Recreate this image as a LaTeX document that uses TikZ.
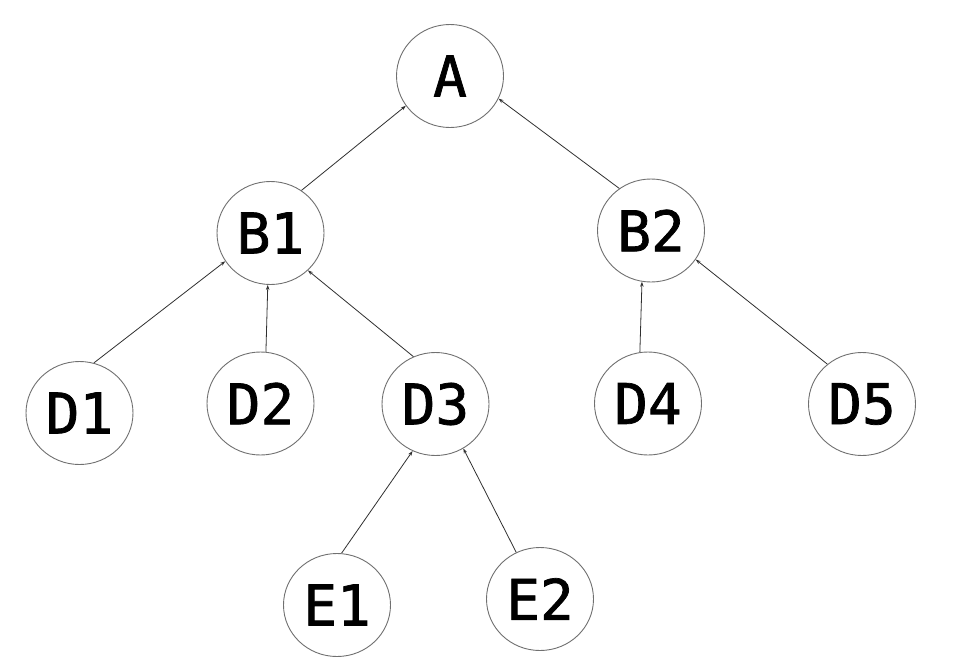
\documentclass[tikz,border=0pt]{standalone}
\usepackage{fontspec}
\newfontfamily\labelfont[FakeBold=1.3]{DejaVu Sans Mono}
\usetikzlibrary{shapes.geometric,arrows.meta}
\definecolor{ringgray}{HTML}{707070}
\definecolor{linkgray}{HTML}{303030}
\begin{document}
\begin{tikzpicture}[x=1pt,y=-1pt,
  treenode/.style={ellipse,draw=ringgray,line width=0.9pt,minimum width=107pt,
    minimum height=103pt,inner sep=0pt,font=\labelfont\fontsize{56}{56}\selectfont},
  link/.style={draw=linkgray,line width=0.8pt,-{Stealth[length=5pt,width=3.5pt]}}]
\useasboundingbox (0,0) rectangle (972,672);
\fill[white] (0,0) rectangle (972,672);
% tree nodes
\node[treenode] (A)  at (450,76)    {A};
\node[treenode] (B1) at (270.5,233) {B1};
\node[treenode] (B2) at (651,230.5) {B2};
\node[treenode] (D1) at (79.5,413)  {D1};
\node[treenode] (D2) at (260.5,403.5) {D2};
\node[treenode] (D3) at (435.5,404) {D3};
\node[treenode] (D4) at (648,403.5) {D4};
\node[treenode] (D5) at (862,404)   {D5};
\node[treenode] (E1) at (337,605)   {E1};
\node[treenode] (E2) at (540,599)   {E2};
% child-to-parent links
\draw[link] (B1.54)  -- (A.214);
\draw[link] (B2.127) -- (A.-25);
\draw[link] (D1.74)  -- (B1.212);
\draw[link] (D2.84)  -- (B1.267);
\draw[link] (D3.115) -- (B1.-45);
\draw[link] (D4.99)  -- (B2.260);
\draw[link] (D5.131) -- (B2.-33);
\draw[link] (E1.85)  -- (D3.244);
\draw[link] (E2.117) -- (D3.-58);
\end{tikzpicture}
\end{document}
